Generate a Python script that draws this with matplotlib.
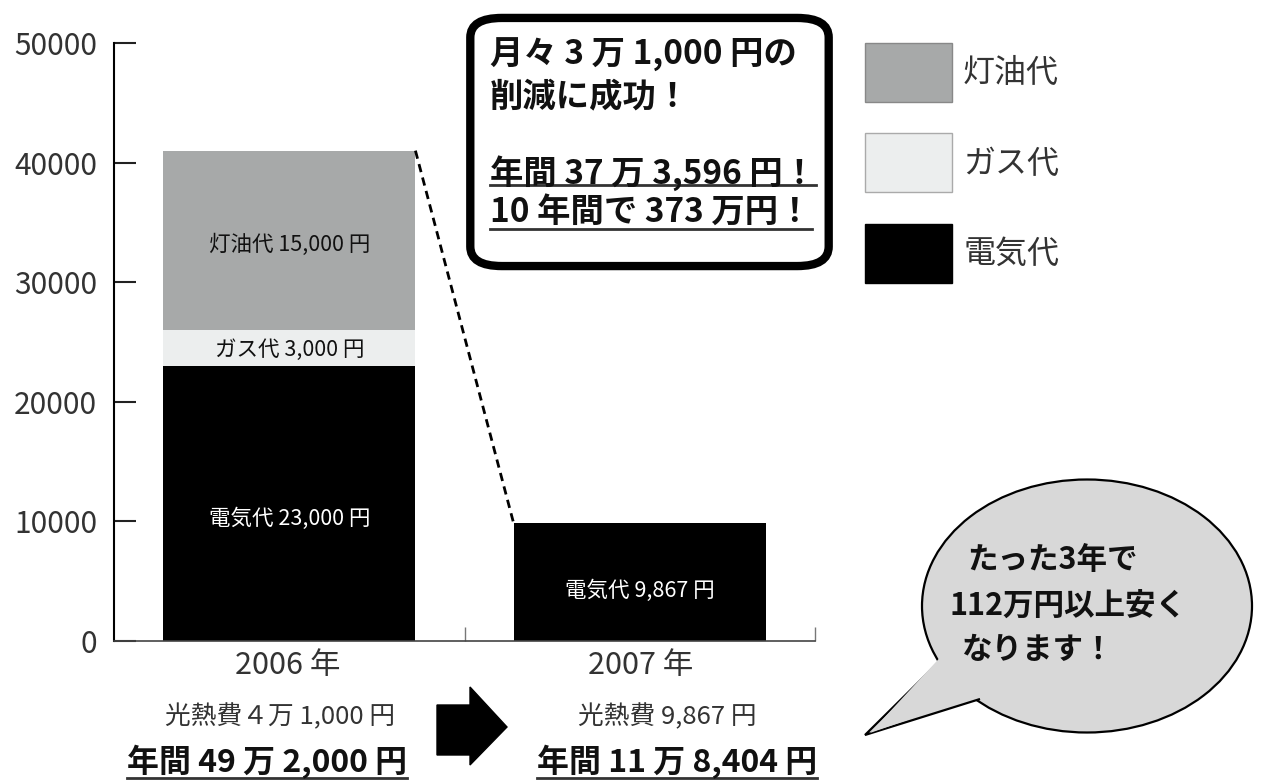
import matplotlib
matplotlib.use("Agg")
import matplotlib.pyplot as plt
from matplotlib.patches import FancyBboxPatch, Ellipse, Polygon, Patch
from matplotlib.lines import Line2D

plt.rcParams['font.family'] = ['Noto Sans CJK JP', 'DejaVu Sans']

# ---- data ----
years = ["2006 年", "2007 年"]
electricity = [23000, 9867]
gas = [3000, 0]
kerosene = [15000, 0]
series_names = ["電気代", "ガス代", "灯油代"]
yticks = [0, 10000, 20000, 30000, 40000, 50000]
seg_labels_elec = ["電気代 23,000 円", "電気代 9,867 円"]
seg_labels_gas = ["ガス代 3,000 円", ""]
seg_labels_ker = ["灯油代 15,000 円", ""]
monthly_labels = ["光熱費４万 1,000 円", "光熱費 9,867 円"]
annual_labels = ["年間 49 万 2,000 円", "年間 11 万 8,404 円"]
callout_lines = ["月々 3 万 1,000 円の", "削減に成功！", "年間 37 万 3,596 円！", "10 年間で 373 万円！"]
bubble_lines = ["たった3年で", "112万円以上安く", "なります！"]

W, H = 1261, 781
fig = plt.figure(figsize=(W / 100, H / 100), dpi=100)
ax = fig.add_axes([114 / W, 1 - 641 / H, (815 - 114) / W, (641 - 43) / H])


def fx(px):
    return px / W


def fy(py):
    return 1 - py / H


c_elec, c_gas, c_ker = "#000000", "#eceeee", "#a7a9a9"
x = list(range(len(years)))
bw = 0.72
ax.bar(x, electricity, bw, color=c_elec)
ax.bar(x, gas, bw, bottom=electricity, color=c_gas)
bottom3 = [e + g for e, g in zip(electricity, gas)]
ax.bar(x, kerosene, bw, bottom=bottom3, color=c_ker)

lab_fs = 15.5
for i in x:
    ax.text(i, electricity[i] / 2 - (1300 if i == 0 else 700),
            seg_labels_elec[i], color="white", ha="center", va="center", fontsize=lab_fs)
    if gas[i]:
        ax.text(i, electricity[i] + gas[i] / 2 - 200, seg_labels_gas[i], color="#111",
                ha="center", va="center", fontsize=lab_fs)
    if kerosene[i]:
        ax.text(i, bottom3[i] + kerosene[i] / 2 - 400, seg_labels_ker[i], color="#111",
                ha="center", va="center", fontsize=lab_fs)

tot = [e + g + k for e, g, k in zip(electricity, gas, kerosene)]
ax.plot([x[0] + bw / 2, x[1] - bw / 2], [tot[0], tot[1]], color="black",
        linestyle=(0, (3, 2)), lw=2)

ax.set_xlim(-0.5, 1.5)
ax.set_ylim(0, 50000)
ax.set_yticks(yticks)
ax.set_yticklabels([str(v) for v in yticks], fontsize=21.5, color="#333333")
ax.tick_params(axis="y", direction="in", length=16, width=1.5, pad=12, color="#222")
ax.set_xticks([])
ax.set_xticks([0.5, 1.5], minor=True)
ax.tick_params(axis="x", which="minor", direction="in", length=10, width=1, color="#777")
for s in ["top", "right"]:
    ax.spines[s].set_visible(False)
ax.spines["left"].set_linewidth(1.5)
ax.spines["bottom"].set_linewidth(1.2)
ax.spines["bottom"].set_color("#444")
ax.patch.set_alpha(0)

# legend
handles = [Patch(facecolor=c_ker, edgecolor="#888888", lw=1),
           Patch(facecolor=c_gas, edgecolor="#aaaaaa", lw=1),
           Patch(facecolor=c_elec, edgecolor="black", lw=1)]
fig.legend(handles, [series_names[2], series_names[1], series_names[0]],
           loc="upper left", bbox_to_anchor=(fx(865), fy(43)), frameon=False,
           fontsize=23, handlelength=2.72, handleheight=2.466, labelspacing=0.98,
           handletextpad=0.35, borderpad=0, borderaxespad=0, labelcolor="#333333")

# bottom labels
underlined = []
year_cx = [288, 641]
month_cx = [280, 667]
annual_cx = [267, 677]
for i in x:
    fig.text(fx(year_cx[i]), fy(665), years[i], ha="center", va="center", fontsize=22, color="#333333")
    fig.text(fx(month_cx[i]), fy(717), monthly_labels[i], ha="center", va="center",
             fontsize=18.5, color="#333333")
    t = fig.text(fx(annual_cx[i]), fy(762), annual_labels[i], ha="center", va="center",
                 fontsize=23, fontweight="bold", color="#111111")
    underlined.append((t, 778))

# block arrow
arrow_px = [(437, 705), (470, 705), (470, 687), (507, 727), (470, 765), (470, 755), (437, 755)]
fig.add_artist(Polygon([(fx(a), fy(b)) for a, b in arrow_px], closed=True,
                       transform=fig.transFigure, facecolor="black", edgecolor="black"))

# callout box
box = FancyBboxPatch((fx(493), fy(252)), fx(806) - fx(493), fy(32) - fy(252),
                     boxstyle="round,pad=0.018,rounding_size=0.025",
                     transform=fig.transFigure, facecolor="white", edgecolor="black", lw=6)
fig.add_artist(box)
cy = [55, 98, 173, 212]
ul_y = [None, None, 185, 229]
for j, line in enumerate(callout_lines):
    t = fig.text(fx(490), fy(cy[j]), line, ha="left", va="center", fontsize=24,
                 fontweight="bold", color="#111111")
    if ul_y[j]:
        underlined.append((t, ul_y[j]))

# speech bubble
ell = Ellipse((fx(1087), fy(606)), fx(330), 253 / H, transform=fig.transFigure,
              facecolor="#d8d8d8", edgecolor="black", lw=1.6, zorder=3)
fig.add_artist(ell)
tail_px = [(945, 656), (865, 735), (980, 699)]
tail = Polygon([(fx(a), fy(b)) for a, b in tail_px], closed=False, transform=fig.transFigure,
               facecolor="#d8d8d8", edgecolor="black", lw=1.6, zorder=4)
fig.add_artist(tail)
cover = Polygon([(fx(a), fy(b)) for a, b in [(947, 650), (870, 733), (985, 693)]], closed=True,
                transform=fig.transFigure, facecolor="#d8d8d8", edgecolor="none", zorder=5)
fig.add_artist(cover)
bl = [(967, 560), (950, 607), (962, 650)]
for j, line in enumerate(bubble_lines):
    fig.text(fx(bl[j][0]), fy(bl[j][1]), line, ha="left", va="center", fontsize=22,
             fontweight="bold", color="#111111", zorder=6)

# underlines
fig.canvas.draw()
renderer = fig.canvas.get_renderer()
for t, ypx in underlined:
    bb = t.get_window_extent(renderer)
    fig.add_artist(Line2D([bb.x0 / W, bb.x1 / W], [fy(ypx), fy(ypx)], transform=fig.transFigure,
                          color="#333333", lw=2))

fig.savefig("out.png", dpi=100)
